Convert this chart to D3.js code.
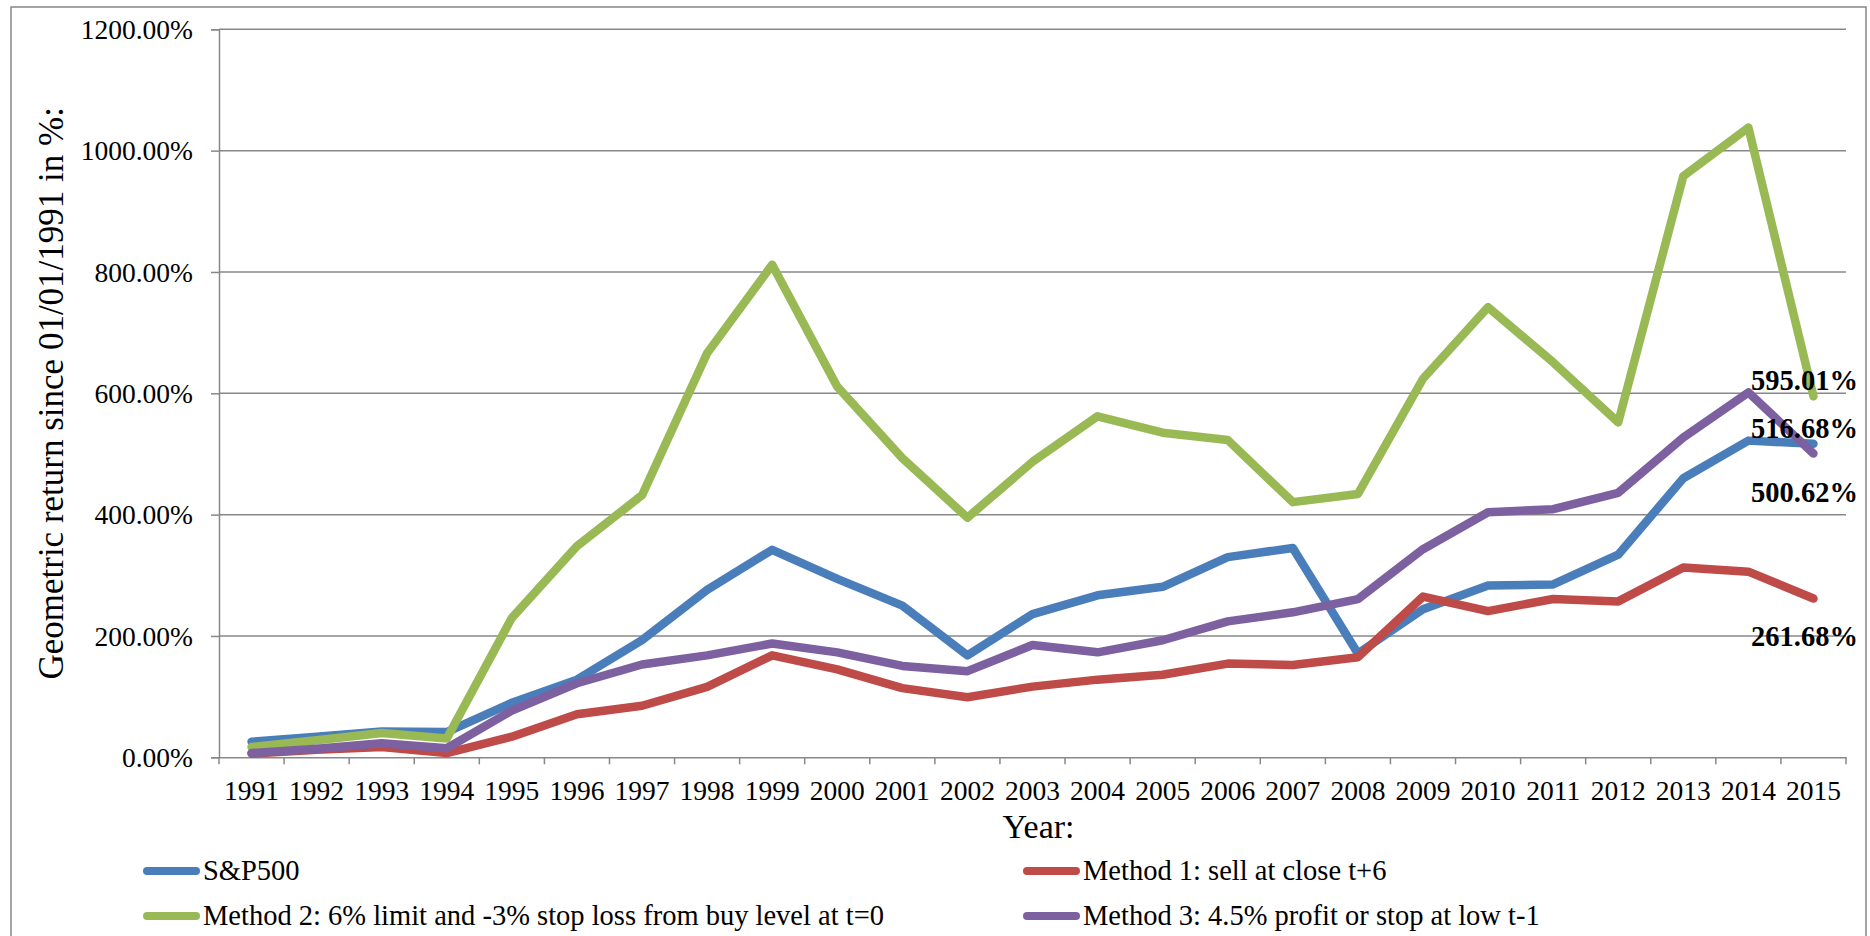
<!DOCTYPE html>
<html>
<head>
<meta charset="utf-8">
<script src="https://cdn.jsdelivr.net/npm/d3@7"></script>
<style>
  html, body { margin: 0; padding: 0; background: #fff; }
  svg { display: block; }
  text { font-family: "Liberation Serif", "Times New Roman", serif; fill: #000; }
</style>
</head>
<body>
<svg id="chart" width="1870" height="936"></svg>
<script>
// Years on the category axis
const years = [1991,1992,1993,1994,1995,1996,1997,1998,1999,2000,2001,2002,2003,
               2004,2005,2006,2007,2008,2009,2010,2011,2012,2013,2014,2015];

// Cumulative geometric return since 01/01/1991, in percent
const sp500   = [25.6,34,42.6,41.5,90,128,193,276,342,294,250,168,236,267,281,330,345,171,244,283,285,334,460,522,516.68];
const method1 = [6,12.5,17,7,34,71,85,116,168,145,114,99,116.5,128,136,154.5,152,165,265,241,261,257,313,306,261.68];
const method2 = [17,28,40,31,230,348,432,666,812,611,493,395,487,562,535,523,420.6,434,624,742,651,552,958,1038,595.01];
const method3 = [7,14,23,15,77,122,153,168,187.5,173,150.6,142,185,173,193,224,239,260.6,343,404,409,436,527,601.5,500.62];

const seriesNames  = ["S&P500", "Method 1: sell at close t+6",
                      "Method 2: 6% limit and -3% stop loss from buy level at t=0",
                      "Method 3: 4.5% profit or stop at low t-1"];
const seriesValues = [sp500, method1, method2, method3];
const seriesColors = ["#4a7ebb", "#be4b48", "#98b954", "#7d60a0"];

const yTicks = [0, 200, 400, 600, 800, 1000, 1200];

const svg = d3.select("#chart");
const plot = { left: 219, right: 1846, top: 29.3, bottom: 757.3 };
const grid = "#888888";

// Outer chart frame
svg.append("rect")
  .attr("x", 11).attr("y", 7).attr("width", 1855).attr("height", 945)
  .attr("fill", "none").attr("stroke", "#878787").attr("stroke-width", 1.5);

const x = d3.scaleBand().domain(years).range([plot.left, plot.right]).padding(0);
const y = d3.scaleLinear().domain([0, 1200]).range([plot.bottom, plot.top]);
const cx = d => x(d) + x.bandwidth() / 2;

// Horizontal gridlines
svg.append("g").selectAll("line").data(yTicks.filter(v => v > 0)).join("line")
  .attr("x1", plot.left).attr("x2", plot.right)
  .attr("y1", d => y(d)).attr("y2", d => y(d))
  .attr("stroke", grid).attr("stroke-width", 1.5);

// Y axis
const yAxis = svg.append("g")
  .attr("transform", `translate(${plot.left},0)`)
  .call(d3.axisLeft(y).tickValues(yTicks).tickSize(8).tickPadding(18)
        .tickFormat(v => d3.format(".2f")(v) + "%"));
yAxis.select(".domain").attr("stroke", grid).attr("stroke-width", 1.5);
yAxis.selectAll(".tick line").attr("stroke", grid).attr("stroke-width", 1.5);
yAxis.selectAll("text").attr("font-size", 27.5).attr("dy", "0.33em")
  .style("font-family", "'Liberation Serif', serif");

// X axis: labels centred in each band, tick marks on band boundaries
const xAxis = svg.append("g")
  .attr("transform", `translate(0,${plot.bottom})`)
  .call(d3.axisBottom(x).tickSize(0).tickPadding(0));
xAxis.select(".domain").attr("stroke", grid).attr("stroke-width", 1.5);
xAxis.selectAll("text").attr("font-size", 27.5).attr("y", 42.7).attr("dy", "0")
  .style("font-family", "'Liberation Serif', serif");
const bounds = d3.range(years.length + 1).map(i => plot.left + i * x.step());
svg.append("g").selectAll("line").data(bounds).join("line")
  .attr("x1", d => d).attr("x2", d => d)
  .attr("y1", plot.bottom).attr("y2", plot.bottom + 7)
  .attr("stroke", grid).attr("stroke-width", 1.5);

// Axis titles
svg.append("text")
  .attr("transform", `translate(62.5,${(plot.top + plot.bottom) / 2}) rotate(-90)`)
  .attr("text-anchor", "middle").attr("font-size", 35)
  .text("Geometric return since 01/01/1991 in %:");
svg.append("text")
  .attr("x", (plot.left + plot.right) / 2 + 6).attr("y", 838)
  .attr("text-anchor", "middle").attr("font-size", 34)
  .text("Year:");

// Series lines
const line = d3.line().x((d, i) => cx(years[i])).y(d => y(d));
svg.append("g").selectAll("path").data(seriesValues).join("path")
  .attr("d", d => line(d))
  .attr("fill", "none")
  .attr("stroke", (d, i) => seriesColors[i])
  .attr("stroke-width", 8.5)
  .attr("stroke-linejoin", "round")
  .attr("stroke-linecap", "round");

// Value labels at the final year
const labelOffsets = [-16, 38, -16, 39];
const last = years.length - 1;
svg.append("g").selectAll("text").data(seriesValues).join("text")
  .attr("x", cx(years[last]) - 9)
  .attr("y", (d, i) => y(d[last]) + labelOffsets[i])
  .attr("dy", "0.34em")
  .attr("text-anchor", "middle")
  .attr("font-size", 28.5).attr("font-weight", "bold")
  .text(d => d[last].toFixed(2) + "%");

// Legend: two columns, two rows
const legendPos = [
  { lx: 143, ty: 871 }, { lx: 1023, ty: 871 },
  { lx: 143, ty: 916 }, { lx: 1023, ty: 916 }
];
const legend = svg.append("g").selectAll("g").data(seriesNames).join("g")
  .attr("transform", (d, i) => `translate(${legendPos[i].lx},${legendPos[i].ty})`);
legend.append("line")
  .attr("x1", 4).attr("x2", 53).attr("y1", 0).attr("y2", 0)
  .attr("stroke", (d, i) => seriesColors[i])
  .attr("stroke-width", 8).attr("stroke-linecap", "round");
legend.append("text")
  .attr("x", 60).attr("y", 0).attr("dy", "0.33em")
  .attr("font-size", 28.5)
  .text(d => d);
</script>
</body>
</html>
